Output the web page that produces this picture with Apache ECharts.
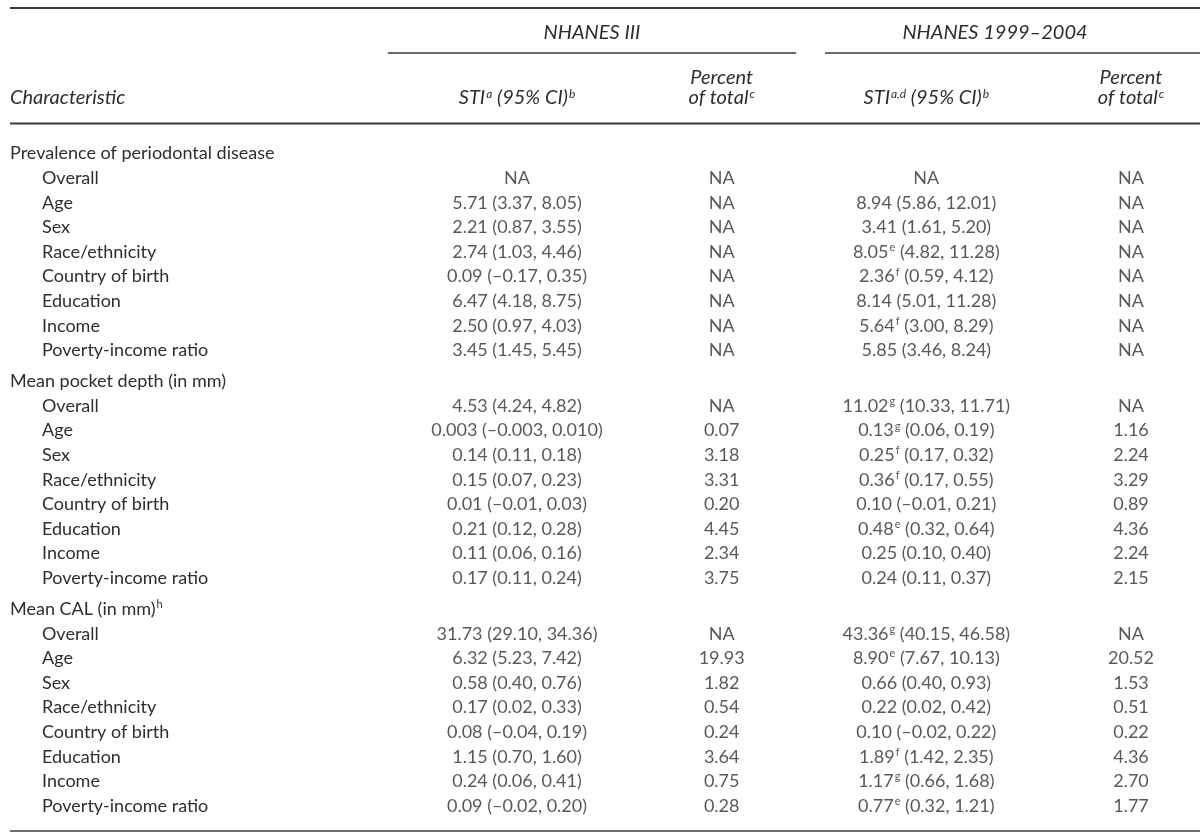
<!DOCTYPE html>
<html>
<head>
<meta charset="utf-8">
<script src="https://cdn.jsdelivr.net/npm/echarts@6/dist/echarts.min.js"></script>
<style>
  html, body { margin: 0; padding: 0; background: #ffffff; }
  #chart { width: 1200px; height: 837px; }
</style>
</head>
<body>
<div id="chart"></div>
<script>
// ---------------- DATA ----------------
const surveyLabels = ['NHANES III', 'NHANES 1999–2004'];
const stubHeader = 'Characteristic';
const columnLabels = ['STI^a (95% CI)^b', 'Percent\nof total^c', 'STI^a,d (95% CI)^b', 'Percent\nof total^c'];
const sections = ['Prevalence of periodontal disease', 'Mean pocket depth (in mm)', 'Mean CAL (in mm)^h'];
const characteristics = ['Overall', 'Age', 'Sex', 'Race/ethnicity', 'Country of birth', 'Education', 'Income', 'Poverty-income ratio'];

const prevalenceSTI3  = ['NA', '5.71 (3.37, 8.05)', '2.21 (0.87, 3.55)', '2.74 (1.03, 4.46)', '0.09 (–0.17, 0.35)', '6.47 (4.18, 8.75)', '2.50 (0.97, 4.03)', '3.45 (1.45, 5.45)'];
const prevalencePct3  = ['NA', 'NA', 'NA', 'NA', 'NA', 'NA', 'NA', 'NA'];
const prevalenceSTI99 = ['NA', '8.94 (5.86, 12.01)', '3.41 (1.61, 5.20)', '8.05^e (4.82, 11.28)', '2.36^f (0.59, 4.12)', '8.14 (5.01, 11.28)', '5.64^f (3.00, 8.29)', '5.85 (3.46, 8.24)'];
const prevalencePct99 = ['NA', 'NA', 'NA', 'NA', 'NA', 'NA', 'NA', 'NA'];

const pocketSTI3  = ['4.53 (4.24, 4.82)', '0.003 (–0.003, 0.010)', '0.14 (0.11, 0.18)', '0.15 (0.07, 0.23)', '0.01 (–0.01, 0.03)', '0.21 (0.12, 0.28)', '0.11 (0.06, 0.16)', '0.17 (0.11, 0.24)'];
const pocketPct3  = ['NA', '0.07', '3.18', '3.31', '0.20', '4.45', '2.34', '3.75'];
const pocketSTI99 = ['11.02^g (10.33, 11.71)', '0.13^g (0.06, 0.19)', '0.25^f (0.17, 0.32)', '0.36^f (0.17, 0.55)', '0.10 (–0.01, 0.21)', '0.48^e (0.32, 0.64)', '0.25 (0.10, 0.40)', '0.24 (0.11, 0.37)'];
const pocketPct99 = ['NA', '1.16', '2.24', '3.29', '0.89', '4.36', '2.24', '2.15'];

const calSTI3  = ['31.73 (29.10, 34.36)', '6.32 (5.23, 7.42)', '0.58 (0.40, 0.76)', '0.17 (0.02, 0.33)', '0.08 (–0.04, 0.19)', '1.15 (0.70, 1.60)', '0.24 (0.06, 0.41)', '0.09 (–0.02, 0.20)'];
const calPct3  = ['NA', '19.93', '1.82', '0.54', '0.24', '3.64', '0.75', '0.28'];
const calSTI99 = ['43.36^g (40.15, 46.58)', '8.90^e (7.67, 10.13)', '0.66 (0.40, 0.93)', '0.22 (0.02, 0.42)', '0.10 (–0.02, 0.22)', '1.89^f (1.42, 2.35)', '1.17^g (0.66, 1.68)', '0.77^e (0.32, 1.21)'];
const calPct99 = ['NA', '20.52', '1.53', '0.51', '0.22', '4.36', '2.70', '1.77'];

// ---------------- LAYOUT ----------------
const FONT = 'Lato, "Open Sans", sans-serif';
const TEXT = '#2e2e2e';
const RULE = '#3a3a3a';
const HEAD_SIZE = 20;
const BODY_SIZE = 18;
const ROW_STEP = 24.6;
const SECTION_TOPS = [153.6, 381.4, 609.2];
const GRID_LEFT = 517, GRID_RIGHT = 69;

// ---------------- BUILD ----------------
const sectionColumns = [
  [prevalenceSTI3, prevalencePct3, prevalenceSTI99, prevalencePct99],
  [pocketSTI3, pocketPct3, pocketSTI99, pocketPct99],
  [calSTI3, calPct3, calSTI99, calPct99]
];

function toRich(s) { return s.replace(/\^([a-z,]+)/g, '{sup|$1}'); }

const supStyle = { fontSize: 11, fontFamily: FONT, color: TEXT, verticalAlign: 'top', lineHeight: 12, padding: [0, 0, 0, 1] };
const supStyleItalic = Object.assign({}, supStyle, { fontStyle: 'italic', fontSize: 12 });

const hidden = { axisLine: { show: false }, axisTick: { show: false }, splitLine: { show: false } };

const grids = [], xAxes = [], yAxes = [], series = [];
sections.forEach((sec, s) => {
  const rows = [sec].concat(characteristics);
  grids.push({ left: GRID_LEFT, right: GRID_RIGHT, top: SECTION_TOPS[s], height: characteristics.length * ROW_STEP, containLabel: false });
  xAxes.push(Object.assign({
    gridIndex: s,
    type: 'category',
    position: 'top',
    boundaryGap: false,
    data: columnLabels,
    axisLabel: s === 0 ? {
      show: true,
      interval: 0,
      margin: 45.6,
      formatter: v => toRich(v),
      color: TEXT,
      fontSize: HEAD_SIZE,
      fontFamily: FONT,
      fontStyle: 'italic',
      lineHeight: 20,
      align: 'center',
      rich: { sup: supStyleItalic }
    } : { show: false }
  }, hidden));
  yAxes.push(Object.assign({
    gridIndex: s,
    type: 'category',
    inverse: true,
    boundaryGap: false,
    data: rows.map((r, i) => s + '_' + i),
    axisLabel: {
      interval: 0,
      margin: GRID_LEFT - 10,
      align: 'left',
      formatter: (v, idx) => idx === 0
        ? '{h|' + toRich(rows[0]).replace(/\{sup\|([a-z,]+)\}/g, '}{sup|$1}{h|') + '}'
        : '{i|' + rows[idx] + '}',
      color: TEXT,
      fontSize: BODY_SIZE,
      fontFamily: FONT,
      rich: {
        h: { fontSize: BODY_SIZE, fontFamily: FONT, color: TEXT, lineHeight: 20 },
        i: { fontSize: BODY_SIZE, fontFamily: FONT, color: TEXT, lineHeight: 20, padding: [0, 0, 0, 32] },
        sup: supStyle
      }
    }
  }, hidden));
  sectionColumns[s].forEach((colValues, col) => {
    series.push({
      type: 'scatter',
      xAxisIndex: s,
      yAxisIndex: s,
      silent: true,
      symbolSize: 1,
      itemStyle: { color: 'rgba(0,0,0,0)' },
      data: colValues.map((txt, i) => ({ value: [col, i + 1], txt: txt })),
      label: {
        show: true,
        position: 'inside',
        formatter: p => toRich(p.data.txt),
        color: TEXT,
        fontSize: BODY_SIZE,
        fontFamily: FONT,
        lineHeight: 20,
        align: 'center',
        verticalAlign: 'middle',
        rich: { sup: supStyle }
      }
    });
  });
});

const chart = echarts.init(document.getElementById('chart'), null, { renderer: 'canvas' });
chart.setOption({
  animation: false,
  backgroundColor: '#ffffff',
  grid: grids,
  xAxis: xAxes,
  yAxis: yAxes,
  graphic: [
    { type: 'line', shape: { x1: 10, y1: 8, x2: 1200, y2: 8 }, style: { stroke: RULE, lineWidth: 2 } },
    { type: 'line', shape: { x1: 388, y1: 53, x2: 796, y2: 53 }, style: { stroke: RULE, lineWidth: 1.6 } },
    { type: 'line', shape: { x1: 825, y1: 53, x2: 1200, y2: 53 }, style: { stroke: RULE, lineWidth: 1.6 } },
    { type: 'line', shape: { x1: 10, y1: 123.5, x2: 1200, y2: 123.5 }, style: { stroke: RULE, lineWidth: 2 } },
    { type: 'line', shape: { x1: 10, y1: 831, x2: 1200, y2: 831 }, style: { stroke: RULE, lineWidth: 1.6 } },
    { type: 'text', x: 592, y: 33, style: { text: surveyLabels[0], fill: TEXT, fontSize: HEAD_SIZE, fontFamily: FONT, fontStyle: 'italic', align: 'center', verticalAlign: 'middle' } },
    { type: 'text', x: 995, y: 33, style: { text: surveyLabels[1], fill: TEXT, fontSize: HEAD_SIZE, fontFamily: FONT, fontStyle: 'italic', align: 'center', verticalAlign: 'middle' } },
    { type: 'text', x: 10, y: 98, style: { text: stubHeader, fill: TEXT, fontSize: HEAD_SIZE, fontFamily: FONT, fontStyle: 'italic', align: 'left', verticalAlign: 'middle' } }
  ],
  series: series
});
</script>
</body>
</html>
